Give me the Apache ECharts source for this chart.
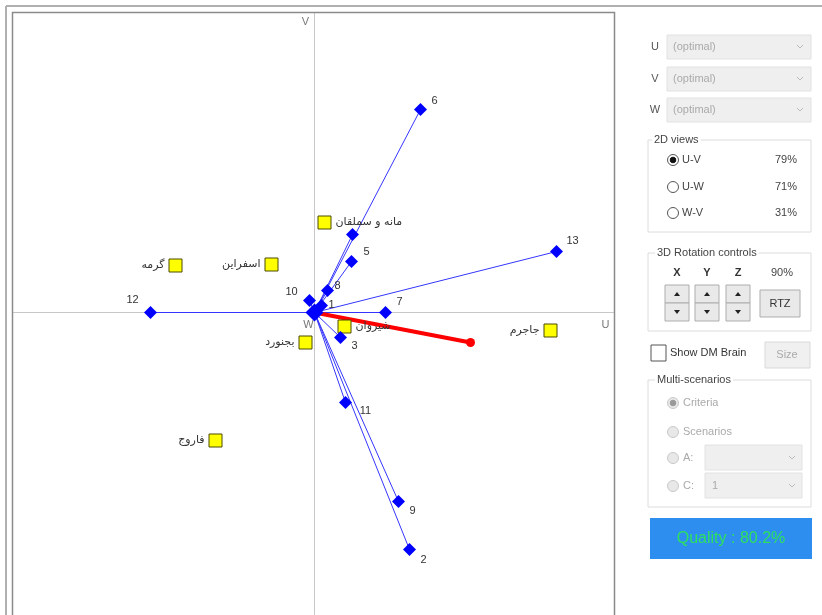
<!DOCTYPE html>
<html>
<head>
<meta charset="utf-8">
<script src="https://cdn.jsdelivr.net/npm/echarts@6/dist/echarts.min.js"></script>
<style>html,body{margin:0;padding:0;background:#fff;}#c{width:822px;height:615px;}</style>
</head>
<body>
<div id="c"></div>
<script>
// ---- data (GAIA plane coordinates) ----
var criteriaNames = ['1','2','3','4','5','6','7','8','9','10','11','12','13'];
var criteriaU = [7, 95, 26, 38, 37, 106, 71, 13, 84, -5, 31, -164, 242];
var criteriaV = [7, -237, -25, 78, 51, 203, 0, 22, -189, 12, -90, 0, 61];
var criteriaShowLabel = [true,true,true,false,true,true,true,true,true,true,true,true,true];

var altNames = ['گرمه','اسفراین','مانه و سملقان','بجنورد','شیروان','جاجرم','فاروج'];
var altU = [-139, -43, 10, -9, 30, 236, -99];
var altV = [47, 48, 90, -30, -14, -18, -128];

var decisionAxis = [156, -30];
var axisNames = ['U','V','W'];
var axisNameU = [291, -9, -6];
var axisNameV = [-12, 291, -12];

var views2D = ['U-V','U-W','W-V'];
var views2DPct = ['79%','71%','31%'];
var quality = 'Quality : 80.2%';

// ---- label placement (style only) ----
var critLabelOffset = {
  '1':[10,-1],'2':[14,10],'3':[14,8],'5':[15,-10],'6':[14,-9],'7':[14,-11],
  '8':[10,-5],'9':[14,9],'10':[-18,-9],'11':[20,8],'12':[-18,-13],'13':[16,-11],'4':[0,0]
};
var altLabelRight = {'مانه و سملقان':true,'شیروان':true};

var chart = echarts.init(document.getElementById('c'));

var lineData = criteriaNames.map(function(n,i){return {coords:[[0,0],[criteriaU[i],criteriaV[i]]]};});
var critData = criteriaNames.map(function(n,i){
  var off = critLabelOffset[n];
  return {name:n, value:[criteriaU[i],criteriaV[i]],
    label:{show:criteriaShowLabel[i], position:'inside', offset:off, formatter:n}};
});
var altData = altNames.map(function(n,i){
  return {name:n, value:[altU[i],altV[i]],
    label:{position: altLabelRight[n] ? 'right' : 'left'}};
});
var axisNameData = axisNames.map(function(n,i){return {name:n, value:[axisNameU[i],axisNameV[i]]};});

var G = [];
var FONT = 'Liberation Sans';
function rect(x,y,w,h,fill,stroke,z){G.push({type:'rect',shape:{x:x,y:y,width:w,height:h},style:{fill:fill||'none',stroke:stroke||null,lineWidth:1},z:z||10});}
function txt(x,y,t,col,size,align,z,extra){var s={text:t,x:x,y:y,fill:col||'#333',font:(size||11)+'px "'+FONT+'"',textAlign:align||'left',textVerticalAlign:'middle'};if(extra){for(var k in extra)s[k]=extra[k];}G.push({type:'text',style:s,z:z||12});}
function circ(cx,cy,r,fill,stroke){G.push({type:'circle',shape:{cx:cx,cy:cy,r:r},style:{fill:fill,stroke:stroke,lineWidth:1},z:12});}
function poly(pts,fill){G.push({type:'polygon',shape:{points:pts},style:{fill:fill},z:13});}
function chevron(x,y,col){G.push({type:'polyline',shape:{points:[[x-3,y-2],[x,y+1],[x+3,y-2]]},style:{stroke:col||'#aaa',lineWidth:1,fill:'none'},z:13});}

// outer frame
G.push({type:'line',shape:{x1:6,y1:6,x2:822,y2:6},style:{stroke:'#b0b0b0',lineWidth:2},z:5});
G.push({type:'line',shape:{x1:6,y1:6,x2:6,y2:615},style:{stroke:'#b0b0b0',lineWidth:2},z:5});
G.push({type:'rect',shape:{x:12.5,y:12.5,width:602,height:610},style:{fill:'none',stroke:'#8a8a8a',lineWidth:1.5},z:5});

// dropdowns
var ddY=[35,67,98], ddL=['U','V','W'];
for(var i=0;i<3;i++){
  txt(655,ddY[i]+12,ddL[i],'#555',11,'center');
  rect(667,ddY[i],144,24,'#efefef','#e2e2e2');
  txt(673,ddY[i]+12,'(optimal)','#aaa',11);
  chevron(800,ddY[i]+12,'#bbb');
}
// 2D views
rect(648,140,163,92,'none','#dcdcdc');
txt(652,140,'2D views','#444',11,'left',12,{backgroundColor:'#fff',padding:[0,2]});
var rY=[160,187,213];
for(var i=0;i<3;i++){
  circ(673,rY[i],5.5,'#fff','#555');
  if(i===0) circ(673,rY[i],2.8,'#111','#111');
  txt(682,rY[i],views2D[i],'#444',11);
  txt(797,rY[i],views2DPct[i],'#444',11,'right');
}
// 3D rotation
rect(648,253,163,78,'none','#dcdcdc');
txt(655,253,'3D Rotation controls','#444',11,'left',12,{backgroundColor:'#fff',padding:[0,2]});
var sx=[665,695,726], sl=['X','Y','Z'];
for(var i=0;i<3;i++){
  txt(sx[i]+12,273,sl[i],'#333',11,'center',12,{font:'bold 11px "'+FONT+'"'});
  rect(sx[i],285,24,18,'#e9e9e9','#adadad');
  rect(sx[i],303,24,18,'#e9e9e9','#adadad');
  var cx=sx[i]+12;
  poly([[cx-3,296],[cx+3,296],[cx,292]],'#222');
  poly([[cx-3,310],[cx+3,310],[cx,314]],'#222');
}
txt(782,273,'90%','#444',11,'center');
rect(760,290,40,27,'#e9e9e9','#adadad');
txt(780,303.5,'RTZ','#333',11,'center');
// show DM brain
rect(651,345,15,16,'#fff','#555');
txt(670,353,'Show DM Brain','#333',11);
rect(765,342,45,26,'#f0f0f0','#d9d9d9');
txt(787,355,'Size','#aaa',11,'center');
// multi-scenarios
rect(648,380,163,127,'none','#dcdcdc');
txt(655,380,'Multi-scenarios','#444',11,'left',12,{backgroundColor:'#fff',padding:[0,2]});
circ(673,403,5.5,'#e8e8e8','#c8c8c8'); circ(673,403,2.8,'#999','#999');
txt(683,403,'Criteria','#aaa',11);
circ(673,432,5.5,'#e8e8e8','#c8c8c8');
txt(683,432,'Scenarios','#aaa',11);
circ(673,458,5.5,'#e8e8e8','#c8c8c8');
txt(683,458,'A:','#aaa',11);
rect(705,445,97,25,'#efefef','#e2e2e2'); chevron(792,458,'#bbb');
circ(673,486,5.5,'#e8e8e8','#c8c8c8');
txt(683,486,'C:','#aaa',11);
rect(705,473,97,25,'#efefef','#e2e2e2'); chevron(792,486,'#bbb');
txt(712,486,'1','#aaa',11);
// quality
rect(650,518,162,41,'#2d8ef0',null);
txt(731,539,quality,'#2ee05e',16,'center');

chart.setOption({
  animation:false,
  grid:{left:12.5,right:208.5,top:12.5,bottom:0.5,containLabel:false},
  xAxis:{type:'value',min:-302,max:299,axisLine:{show:true,onZero:true,lineStyle:{color:'#c8c8c8',width:1}},
    axisTick:{show:false},axisLabel:{show:false},splitLine:{show:false},z:0},
  yAxis:{type:'value',min:-302,max:300,axisLine:{show:true,onZero:true,lineStyle:{color:'#c8c8c8',width:1}},
    axisTick:{show:false},axisLabel:{show:false},splitLine:{show:false},z:0},
  graphic:G,
  series:[
    {type:'lines',coordinateSystem:'cartesian2d',data:lineData,lineStyle:{color:'#3535ff',width:1,opacity:1},z:3,silent:true},
    {type:'lines',coordinateSystem:'cartesian2d',data:[{coords:[[0,0],decisionAxis]}],lineStyle:{color:'#ff0000',width:4,opacity:1},z:4,silent:true},
    {type:'scatter',data:[decisionAxis],symbol:'circle',symbolSize:9,itemStyle:{color:'#ff0000',opacity:1},z:4},
    {type:'scatter',data:altData,symbol:'rect',symbolSize:13,
      itemStyle:{color:'#ffff00',borderColor:'#4a4a00',borderWidth:1,opacity:1},
      label:{show:true,formatter:'{b}',distance:4,color:'#333',fontSize:11,fontFamily:'DejaVu Sans'},z:5},
    {type:'scatter',data:critData,symbol:'diamond',symbolSize:13,itemStyle:{color:'#0000ff',opacity:1},
      label:{color:'#333',fontSize:11,fontFamily:FONT},z:6},
    {type:'scatter',data:[[0,0]],symbol:'diamond',symbolSize:18,itemStyle:{color:'#0000ff',opacity:1},z:7},
    {type:'scatter',data:axisNameData,symbolSize:0,label:{show:true,position:'inside',formatter:'{b}',color:'#555',fontSize:11,fontFamily:FONT},z:3}
  ]
});
</script>
</body>
</html>
